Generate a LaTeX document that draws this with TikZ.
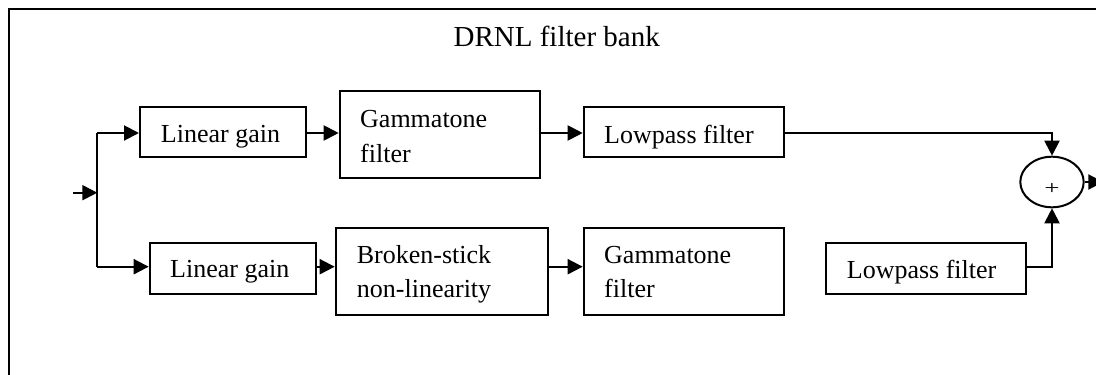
\documentclass[tikz,border=0pt]{standalone}
\usepackage{fontspec}
\setmainfont{Liberation Serif}
\usetikzlibrary{arrows.meta,shapes.geometric}
\begin{document}
\begin{tikzpicture}[x=1pt,y=-1pt,
  box/.style={draw,line width=2pt,inner sep=0pt},
  txt/.style={inner sep=0pt,anchor=base west,font=\fontsize{26}{30}\selectfont},
  arr/.style={line width=2pt,-{Triangle[length=15pt,width=15pt]}},
  ln/.style={line width=2pt}]
\useasboundingbox (0,0) rectangle (1096,375);
\clip (0,0) rectangle (1096,375);
% frame (right and bottom sides fall outside the picture)
\draw[line width=2pt] (9.3,9) rectangle (1130,420);
\node[inner sep=0pt,anchor=base,font=\fontsize{29}{32}\selectfont] (title) at (556.7,46.7) {DRNL filter bank};
% boxes
\node[box,minimum width=166pt,minimum height=50pt] (lg1) at (223,131.7) {};
\node[box,minimum width=200.3pt,minimum height=87.6pt] (gt1) at (439.85,134.5) {};
\node[box,minimum width=200.3pt,minimum height=49.4pt] (lp1) at (683.85,132) {};
\node[box,minimum width=166.3pt,minimum height=51.3pt] (lg2) at (232.85,268.35) {};
\node[box,minimum width=212pt,minimum height=86.7pt] (bs) at (441.7,271.35) {};
\node[box,minimum width=200.3pt,minimum height=86.7pt] (gt2) at (683.85,271.35) {};
\node[box,minimum width=200pt,minimum height=50.7pt] (lp2) at (926,268.65) {};
\node[draw,ellipse,line width=2pt,inner sep=0pt,minimum width=63.4pt,minimum height=50.6pt] (sum) at (1052,182) {};
\node[inner sep=0pt,font=\fontsize{27}{30}\selectfont] (plus) at (1052,189.3) {\scalebox{1}[0.72]{+}};
% texts
\node[txt] (tlg1) at (160.7,142.7) {Linear gain};
\node[txt] (tgt1a) at (360,127.7) {Gammatone};
\node[txt] (tgt1b) at (360,162.3) {filter};
\node[txt] (tlp1) at (604,143.3) {Lowpass filter};
\node[txt] (tlg2) at (170,277.7) {Linear gain};
\node[txt] (tbsa) at (356.7,263.3) {Broken-stick};
\node[txt] (tbsb) at (356.7,297.7) {non-linearity};
\node[txt] (tgt2a) at (604,263.3) {Gammatone};
\node[txt] (tgt2b) at (604,297.7) {filter};
\node[txt] (tlp2) at (846.7,278.3) {Lowpass filter};
% helper coordinates
\coordinate (in) at (73.3,192.7);
\coordinate (split) at (97.3,192.7);
\coordinate (r1) at (97.3,133);
\coordinate (r2) at (97.3,266.7);
\coordinate (out) at (1103.3,182);
% connectors
\draw[arr] (in) -- (split);
\draw[ln] (r1) -- (r2);
\draw[arr] (r1) -- (lg1.west |- r1);
\draw[arr] (r2) -- (lg2.west |- r2);
\draw[arr] (lg1.east |- r1) -- (gt1.west |- r1);
\draw[arr] (gt1.east |- r1) -- (lp1.west |- r1);
\draw[arr] (lp1.east |- r1) -| (sum.north);
\draw[arr] (lg2.east |- r2) -- (bs.west |- r2);
\draw[arr] (bs.east |- r2) -- (gt2.west |- r2);
\draw[arr] (lp2.east |- r2) -| (sum.south);
\draw[arr] (sum.east |- out) -- (out);
\end{tikzpicture}
\end{document}
